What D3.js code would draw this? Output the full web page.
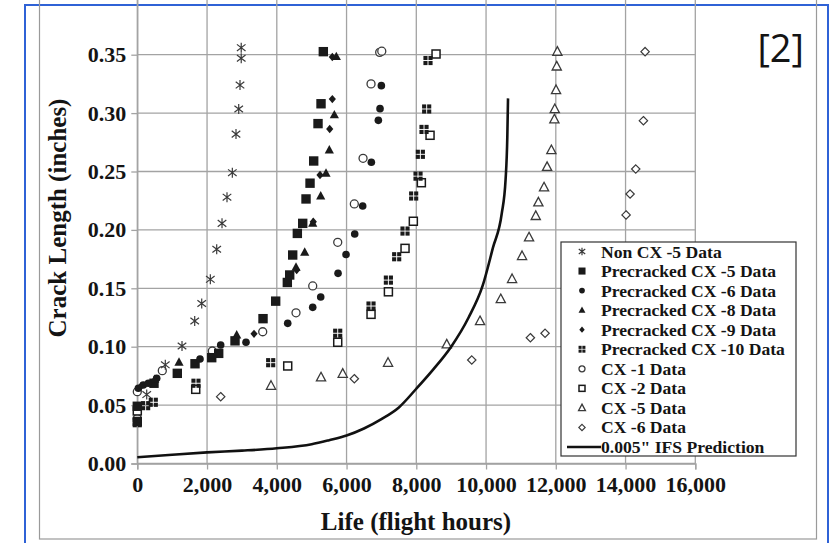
<!DOCTYPE html>
<html>
<head>
<meta charset="utf-8">
<script src="https://cdn.jsdelivr.net/npm/d3@7"></script>
<style>
  html, body { margin: 0; padding: 0; background: #fff; }
  svg { display: block; }
  text { font-family: "Liberation Serif", "Times New Roman", serif; font-weight: bold; fill: #141414; }
</style>
</head>
<body>
<svg id="chart" width="830" height="543"></svg>
<script>
// ---- Crack growth data: life (flight hours) vs crack length (inches) ----
const nonCX5 = [[270,0.059],[803,0.0845],[1282,0.1006],[1646,0.122],[1847,0.137],[2094,0.1577],[2277,0.1834],[2429,0.2056],[2572,0.228],[2725,0.249],[2830,0.282],[2908,0.3035],[2945,0.324],[2980,0.347],[2980,0.356]];
const preCX5 = [[0,0.049],[0,0.036],[479,0.0687],[1147,0.0772],[1655,0.0854],[2134,0.0906],[2334,0.0943],[2802,0.105],[3605,0.124],[3968,0.139],[4302,0.155],[4370,0.1614],[4456,0.1785],[4589,0.197],[4743,0.2056],[4838,0.2265],[4953,0.240],[5058,0.259],[5182,0.291],[5268,0.308],[5334,0.3526]];
const preCX6 = [[30,0.0644],[172,0.0672],[315,0.0687],[556,0.073],[1798,0.0895],[2391,0.1015],[3117,0.1038],[4313,0.120],[5030,0.1337],[5259,0.1425],[5756,0.1628],[5985,0.179],[6234,0.1965],[6463,0.2205],[6711,0.2579],[6912,0.2938],[6960,0.3038],[6998,0.3235]];
const preCX8 = [[500,0.072],[1196,0.0866],[2850,0.110],[4551,0.168],[4800,0.1808],[5030,0.2056],[5259,0.229],[5411,0.2485],[5506,0.2684],[5650,0.2984],[5707,0.3483]];
const preCX9 = [[100,0.066],[3347,0.111],[4570,0.1656],[5047,0.207],[5239,0.247],[5517,0.2864],[5592,0.312],[5592,0.348]];
const preCX10 = [[0,0.0349],[240,0.0495],[459,0.0524],[1683,0.0687],[3825,0.0863],[5747,0.1115],[6702,0.1348],[7200,0.157],[7438,0.177],[7677,0.199],[7925,0.229],[8050,0.246],[8117,0.2647],[8222,0.286],[8298,0.3035],[8336,0.345]];
const cx1 = [[0,0.0384],[0,0.0615],[717,0.0795],[2151,0.0963],[3596,0.1128],[4551,0.129],[5030,0.152],[5747,0.1894],[6223,0.2222],[6473,0.2613],[6702,0.325],[6950,0.352],[7010,0.353]];
const cx2 = [[0,0.045],[1675,0.0635],[4313,0.0835],[5747,0.1038],[6702,0.1277],[7200,0.147],[7677,0.1842],[7915,0.2074],[8145,0.2404],[8394,0.281],[8566,0.3506]];
const cx5 = [[3834,0.0666],[5268,0.0738],[5890,0.0769],[7190,0.0863],[8873,0.102],[9828,0.122],[10422,0.1408],[10746,0.158],[11032,0.1777],[11233,0.1937],[11425,0.212],[11500,0.2236],[11663,0.2365],[11750,0.254],[11873,0.2684],[11959,0.2947],[11970,0.3035],[12007,0.3198],[12027,0.340],[12045,0.3526]];
const cx6 = [[2391,0.0572],[6223,0.0726],[9590,0.0886],[11271,0.1077],[11692,0.1115],[14015,0.2128],[14130,0.2307],[14292,0.2521],[14512,0.2935],[14560,0.3526]];
// 0.005" initial flaw size prediction curve
const ifsPrediction = [[0,0.0053],[1000,0.0075],[2000,0.0095],[3000,0.011],[4000,0.013],[5000,0.0165],[5500,0.020],[6000,0.024],[6500,0.030],[7000,0.038],[7500,0.048],[8000,0.064],[8500,0.081],[9000,0.100],[9500,0.125],[9900,0.152],[10200,0.185],[10450,0.214],[10560,0.243],[10610,0.28],[10630,0.3126]];

const xTicks = [0,2000,4000,6000,8000,10000,12000,14000,16000];
const yTicks = [0,0.05,0.10,0.15,0.20,0.25,0.30,0.35];
const legendLabels = ["Non CX -5 Data","Precracked CX -5 Data","Precracked CX -6 Data","Precracked CX -8 Data","Precracked CX -9 Data","Precracked CX -10 Data","CX -1 Data","CX -2 Data","CX -5 Data","CX -6 Data","0.005\" IFS Prediction"];

const svg = d3.select("#chart");
const x = d3.scaleLinear().domain([0,16000]).range([137.3,695.3]);
const y = d3.scaleLinear().domain([0,0.40]).range([463.5,-3.7]);

// page frames
svg.append("rect").attr("x",25).attr("y",5).attr("width",803).attr("height",600)
  .attr("fill","none").attr("stroke","#2f62d6").attr("stroke-width",2);
svg.append("rect").attr("x",39.5).attr("y",-3).attr("width",777).attr("height",542)
  .attr("fill","none").attr("stroke","#9a9a9a").attr("stroke-width",1.2);

// grid
const grid = svg.append("g").attr("stroke","#a3a3a3").attr("stroke-width",1.3);
grid.selectAll("line.v").data(xTicks).join("line")
  .attr("x1",d=>x(d)).attr("x2",d=>x(d)).attr("y1",y(0.40)).attr("y2",y(0));
grid.selectAll("line.h").data(yTicks.concat([0.40])).join("line")
  .attr("x1",x(0)).attr("x2",x(16000)).attr("y1",d=>y(d)).attr("y2",d=>y(d));

// axes
const yAxis = svg.append("g").attr("transform",`translate(${x(0)},0)`)
  .call(d3.axisLeft(y).tickValues(yTicks).tickFormat(d3.format(".2f")).tickSize(6).tickPadding(5));
const xAxis = svg.append("g").attr("transform",`translate(0,${y(0)})`)
  .call(d3.axisBottom(x).tickValues(xTicks).tickFormat(d3.format(",")).tickSize(6).tickPadding(7));
[yAxis,xAxis].forEach(a=>{
  a.select(".domain").attr("stroke","#a3a3a3").attr("stroke-width",1.3);
  a.selectAll(".tick line").attr("stroke","#a3a3a3").attr("stroke-width",1.3);
  a.selectAll("text").attr("font-family","Liberation Serif, serif").attr("font-weight","bold")
    .attr("font-size",22).attr("fill","#141414");
});

// axis titles
svg.append("text").attr("x",416).attr("y",530).attr("text-anchor","middle")
  .attr("font-size",25).text("Life (flight hours)");
svg.append("text").attr("transform","translate(66,218) rotate(-90)").attr("text-anchor","middle")
  .attr("font-size",25).text("Crack Length (inches)");

// reference tag
svg.append("text").attr("x",804).attr("y",62).attr("text-anchor","end")
  .style("font-family","'Open Sans', 'Liberation Sans', sans-serif").style("font-weight","normal")
  .attr("font-size",38).attr("fill","#111").text("[2]");

// marker drawing helpers
const ink = "#1a1a1a", open = "#3a3a3a";
function drawMarker(g, kind, s){
  switch(kind){
    case "asterisk":
      g.append("path").attr("d",`M0,${-5*s}V${5*s}M${-4.3*s},${-3.3*s}L${4.3*s},${3.3*s}M${-4.3*s},${3.3*s}L${4.3*s},${-3.3*s}`)
        .attr("stroke",open).attr("stroke-width",1.2).attr("fill","none"); break;
    case "square":
      g.append("rect").attr("x",-4.7*s).attr("y",-4.7*s).attr("width",9.4*s).attr("height",9.4*s).attr("fill",ink); break;
    case "circle":
      g.append("circle").attr("r",3.8*s).attr("fill",ink); break;
    case "triangle":
      g.append("path").attr("d",`M0,${-5*s}L${4.6*s},${3.4*s}L${-4.6*s},${3.4*s}Z`).attr("fill",ink); break;
    case "diamond":
      g.append("path").attr("d",`M0,${-4.2*s}L${3.6*s},0L0,${4.2*s}L${-3.6*s},0Z`).attr("fill",ink); break;
    case "grid":
      [[-1,-1],[0.1,-1],[-1,0.1],[0.1,0.1]].forEach(([a,b])=>
        g.append("rect").attr("x",a*4.6*s).attr("y",b*4.6*s).attr("width",4.1*s).attr("height",4.1*s).attr("fill",ink));
      break;
    case "ocircle":
      g.append("circle").attr("r",4*s).attr("fill","#fff").attr("stroke",open).attr("stroke-width",1.3); break;
    case "osquare":
      g.append("rect").attr("x",-4*s).attr("y",-4*s).attr("width",8*s).attr("height",8*s)
        .attr("fill","#fff").attr("stroke",ink).attr("stroke-width",1.5); break;
    case "otriangle":
      g.append("path").attr("d",`M0,${-5*s}L${4.6*s},${3.6*s}L${-4.6*s},${3.6*s}Z`)
        .attr("fill","#fff").attr("stroke",open).attr("stroke-width",1.3); break;
    case "odiamond":
      g.append("path").attr("d",`M0,${-4.2*s}L${4.2*s},0L0,${4.2*s}L${-4.2*s},0Z`)
        .attr("fill","#fff").attr("stroke",open).attr("stroke-width",1.2); break;
  }
}

const series = [
  {data:nonCX5, kind:"asterisk"},
  {data:preCX5, kind:"square"},
  {data:preCX6, kind:"circle"},
  {data:preCX8, kind:"triangle"},
  {data:preCX9, kind:"diamond"},
  {data:preCX10, kind:"grid"},
  {data:cx1, kind:"ocircle"},
  {data:cx2, kind:"osquare"},
  {data:cx5, kind:"otriangle"},
  {data:cx6, kind:"odiamond"}
];

// data points (open series drawn first so filled ones sit on top)
const drawOrder = [6,7,8,9,0,1,2,3,4,5];
drawOrder.forEach(i=>{
  const sr = series[i];
  const g = svg.append("g");
  sr.data.forEach(d=>{
    const m = g.append("g").attr("transform",`translate(${x(d[0])},${y(d[1])})`);
    drawMarker(m, sr.kind, 1);
  });
});

// prediction curve
svg.append("path").datum(ifsPrediction)
  .attr("d", d3.line().x(d=>x(d[0])).y(d=>y(d[1])).curve(d3.curveMonotoneX))
  .attr("fill","none").attr("stroke","#111").attr("stroke-width",2.6);

// legend
const lg = svg.append("g");
lg.append("rect").attr("x",561).attr("y",242).attr("width",235).attr("height",214)
  .attr("fill","#fff").attr("stroke","#333").attr("stroke-width",1.2);
legendLabels.forEach((lab,i)=>{
  const cy = 251.5 + i*19.55;
  if(i < series.length){
    const m = lg.append("g").attr("transform",`translate(582,${cy})`);
    drawMarker(m, series[i].kind, 0.75);
  } else {
    lg.append("line").attr("x1",567).attr("x2",601).attr("y1",cy).attr("y2",cy)
      .attr("stroke","#111").attr("stroke-width",2.6);
  }
  lg.append("text").attr("x",601).attr("y",cy+6).attr("font-size",17.6).text(lab);
});
</script>
</body>
</html>
